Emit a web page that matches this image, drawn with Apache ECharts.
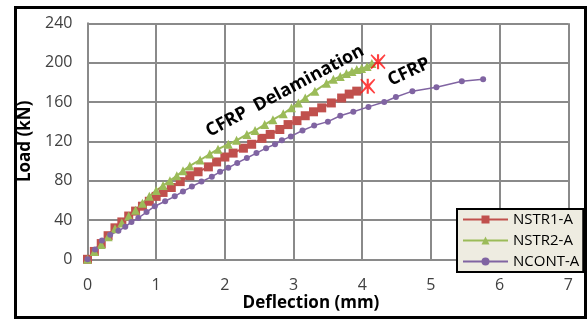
<!DOCTYPE html>
<html><head><meta charset="utf-8">
<script src="https://cdn.jsdelivr.net/npm/echarts@6/dist/echarts.min.js"></script>
<style>html,body{margin:0;padding:0;background:#fff}#c{width:587px;height:320px}</style>
</head><body><div id="c"></div>
<script>
// Data
const xTicks = [0,1,2,3,4,5,6,7];
const yTicks = [0,40,80,120,160,200,240];
const seriesNames = ['NSTR1-A','NSTR2-A','NCONT-A'];

const nstr1X = [0,0.1,0.2,0.3,0.4,0.5,0.6,0.7,0.8,0.9,1.0,1.1,1.22,1.35,1.49,1.61,1.76,1.88,2.0,2.12,2.27,2.39,2.54,2.66,2.8,2.92,3.05,3.17,3.29,3.41,3.55,3.7,3.81,3.92];
const nstr1Y = [0,8,16,24,32,38,44,49,54,59,64,68,73,79,85,89,94,99,104,108,113,117,123,127,132,137,141,146,150,154,159,164,168,171];

const nstr2X = [0,0.1,0.2,0.3,0.4,0.5,0.6,0.7,0.8,0.9,1.0,1.1,1.2,1.3,1.39,1.49,1.64,1.78,1.9,2.05,2.17,2.32,2.44,2.58,2.7,2.85,2.97,3.07,3.17,3.31,3.48,3.58,3.68,3.77,3.85,3.92,3.99,4.07,4.14];
const nstr2Y = [0,8,15,23,31,37,44,50,57,64,70,75,80,85,90,95,101,107,112,117,121,127,131,137,142,148,154,159,164,171,179,183,186,189,191,193,194,196,199];

const ncontX = [0,0.11,0.21,0.33,0.45,0.55,0.64,0.74,0.86,0.98,1.13,1.27,1.39,1.52,1.66,1.81,1.93,2.05,2.18,2.32,2.46,2.6,2.73,2.83,2.96,3.13,3.3,3.5,3.68,3.87,4.09,4.32,4.49,4.73,5.08,5.45,5.76];
const ncontY = [0,10,19,25,29,33,38,42,48,54,59,64,69,74,79,84,89,93,98,103,108,113,117,121,125,131,136,140,146,150,155,160,165,171,175,181,183];

// failure markers (X)
const failX = [4.08,4.23];
const failY = [176,201];

const zip = (xs, ys) => xs.map((x,i) => [x, ys[i]]);
const colors = ['#C0504D','#9BBB59','#8064A2'];
const gridColor = '#8a8a8a';
const font = "'Open Sans', 'Liberation Sans', sans-serif";

const chart = echarts.init(document.getElementById('c'), null, {renderer:'canvas'});
chart.setOption({
  animation:false,
  backgroundColor:'#fff',
  grid:{left:87.5, right:18.7, top:23.3, bottom:60.7},
  xAxis:{type:'value', min:0, max:7, interval:1,
    axisLine:{show:true, lineStyle:{color:gridColor, width:2}},
    axisTick:{show:false},
    splitLine:{show:true, lineStyle:{color:gridColor, width:2}},
    axisLabel:{color:'#404040', fontSize:16, fontFamily:font, margin:18,
      formatter:v => xTicks.includes(v) ? String(v) : ''}
  },
  yAxis:{type:'value', min:0, max:240, interval:40,
    name:'Load (kN)', nameLocation:'middle', nameGap:47, nameRotate:90,
    nameTextStyle:{color:'#000', fontSize:17, fontWeight:'bold', fontFamily:font},
    axisLine:{show:true, lineStyle:{color:gridColor, width:2}},
    axisTick:{show:false},
    splitLine:{show:true, lineStyle:{color:gridColor, width:2}},
    axisLabel:{color:'#404040', fontSize:16, fontFamily:font, margin:15,
      formatter:v => yTicks.includes(v) ? String(v) : ''}
  },
  legend:{orient:'vertical', left:457, top:209, itemWidth:45, itemHeight:10, itemGap:6,
    backgroundColor:'#eeece1', borderColor:'#000', borderWidth:2, borderRadius:0,
    padding:[3,4,3,5],
    textStyle:{color:'#000', fontSize:15, fontFamily:font, lineHeight:15},
    data:seriesNames},
  series:[
    {name:seriesNames[0], type:'line', data:zip(nstr1X,nstr1Y), symbol:'rect', symbolSize:9,
     itemStyle:{color:colors[0]}, lineStyle:{color:colors[0], width:2}},
    {name:seriesNames[1], type:'line', data:zip(nstr2X,nstr2Y), symbol:'triangle', symbolSize:9,
     itemStyle:{color:colors[1]}, lineStyle:{color:colors[1], width:2}},
    {name:seriesNames[2], type:'line', data:zip(ncontX,ncontY), symbol:'circle', symbolSize:6,
     itemStyle:{color:colors[2]}, lineStyle:{color:colors[2], width:1.5}},
    {name:'failure', type:'scatter', data:zip(failX,failY), z:5,
     symbol:'path://M1,0 L6,5 L6,0 L8,0 L8,5 L13,0 L14,1 L9,7 L14,13 L13,14 L8,9 L8,14 L6,14 L6,9 L1,14 L0,13 L5,7 L0,1 Z',
     symbolSize:15, itemStyle:{color:'#ff1010'}}
  ],
  graphic:[
    {type:'rect', shape:{x:15.5, y:7.5, width:570, height:310}, style:{fill:'none', stroke:'#000', lineWidth:3}, z:100},
    {type:'text', x:311, y:303, style:{text:'Deflection (mm)', fill:'#000', font:"bold 17px 'Open Sans', sans-serif", textAlign:'center', textVerticalAlign:'middle'}},
    {type:'text', x:285, y:91, rotation:28*Math.PI/180, style:{text:'CFRP  Delamination', fill:'#000', font:"bold 18px 'Open Sans', sans-serif", textAlign:'center', textVerticalAlign:'middle'}, z:50},
    {type:'text', x:409, y:72, rotation:25*Math.PI/180, style:{text:'CFRP', fill:'#000', font:"bold 18px 'Open Sans', sans-serif", textAlign:'center', textVerticalAlign:'middle'}, z:50}
  ]
});
</script></body></html>
